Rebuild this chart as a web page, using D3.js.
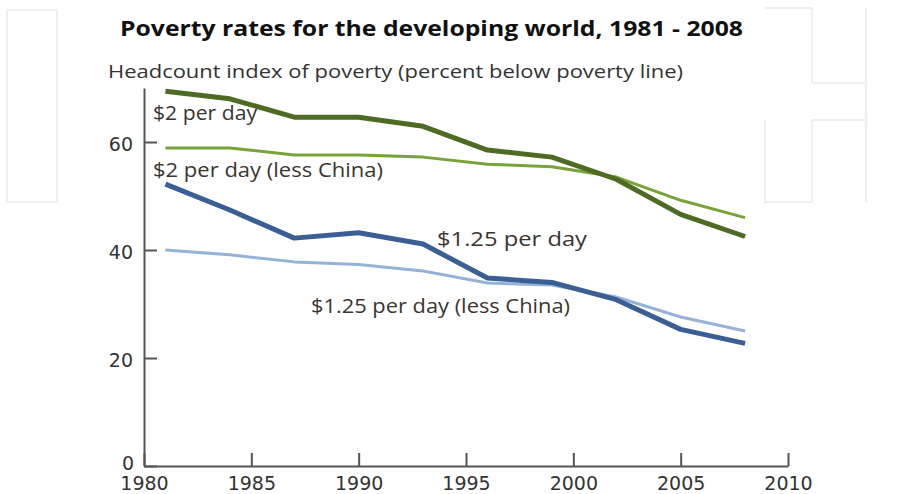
<!DOCTYPE html>
<html>
<head>
<meta charset="utf-8">
<script src="https://cdn.jsdelivr.net/npm/d3@7"></script>
<style>
  body { margin: 0; background: #fff; }
  text { font-family: "Open Sans", "DejaVu Sans", sans-serif; fill: #333; }
</style>
</head>
<body>
<div id="chart"></div>
<script>
// data
var years = [1981, 1984, 1987, 1990, 1993, 1996, 1999, 2002, 2005, 2008];
var twoDollar = [69.4, 68.0, 64.6, 64.6, 62.9, 58.5, 57.2, 53.1, 46.6, 42.5];
var twoDollarLessChina = [58.9, 58.9, 57.6, 57.6, 57.2, 55.9, 55.4, 53.5, 49.2, 46.0];
var oneTwentyFive = [52.2, 47.4, 42.2, 43.2, 41.1, 34.8, 34.0, 30.8, 25.3, 22.7];
var oneTwentyFiveLessChina = [40.0, 39.1, 37.8, 37.3, 36.1, 33.9, 33.5, 31.3, 27.6, 25.0];
var xTicks = [1980, 1985, 1990, 1995, 2000, 2005, 2010];
var yTicks = [0, 20, 40, 60];

var series = [
  {name: "$2 per day (less China)", values: twoDollarLessChina, color: "#77a33a", width: 3, lx: 153, ly: 177, lw: 230},
  {name: "$2 per day", values: twoDollar, color: "#4e6b24", width: 5, lx: 153, ly: 120, lw: 104},
  {name: "$1.25 per day (less China)", values: oneTwentyFiveLessChina, color: "#95b3d7", width: 3, lx: 311, ly: 313, lw: 259},
  {name: "$1.25 per day", values: oneTwentyFive, color: "#3a5f94", width: 5, lx: 437, ly: 246, lw: 150}
];

var W = 909, H = 494;
var svg = d3.select("#chart").append("svg")
    .attr("width", W)
    .attr("height", H);

// faint watermark outlines behind the chart
var wm = svg.append("g").attr("fill", "none").attr("stroke", "#efefef").attr("stroke-width", 2);
wm.append("rect").attr("x", 7).attr("y", 10).attr("width", 50).attr("height", 192);
wm.append("path").attr("d", "M765,8 H812 V83 M812,120 V202 H765 V120 M866,8 V202 M865,83 H812 M865,120 H812");

var x = d3.scaleLinear().domain([1980, 2010]).range([144, 788]);
var y = d3.scaleLinear().domain([0, 70]).range([466, 88]);

// title + subtitle
svg.append("text")
  .attr("x", 120).attr("y", 36)
  .attr("font-size", 22).attr("font-weight", "bold")
  .attr("textLength", 623).attr("lengthAdjust", "spacingAndGlyphs")
  .style("fill", "#111")
  .text("Poverty rates for the developing world, 1981 - 2008");

svg.append("text")
  .attr("x", 108).attr("y", 78)
  .attr("font-size", 18)
  .attr("textLength", 575).attr("lengthAdjust", "spacingAndGlyphs")
  .text("Headcount index of poverty (percent below poverty line)");

// axes
var axisColor = "#555";
var xAxis = svg.append("g")
  .attr("transform", "translate(0," + y(0) + ")")
  .call(d3.axisBottom(x).tickValues(xTicks).tickFormat(d3.format("d")).tickSize(-13).tickSizeOuter(0));
xAxis.select(".domain").attr("stroke", axisColor).attr("stroke-width", 2);
xAxis.selectAll(".tick line").attr("stroke", axisColor).attr("stroke-width", 2);
xAxis.selectAll(".tick text")
  .attr("y", 11).attr("dy", "0.71em")
  .attr("font-size", 19)
  .style("font-family", "'DejaVu Sans', sans-serif")
  .style("fill", "#333");

var yAxis = svg.append("g")
  .attr("transform", "translate(" + x(1980) + ",0)")
  .call(d3.axisLeft(y).tickValues(yTicks).tickSize(-13).tickSizeOuter(0));
yAxis.select(".domain").attr("stroke", axisColor).attr("stroke-width", 2);
yAxis.selectAll(".tick line").attr("stroke", axisColor).attr("stroke-width", 2);
yAxis.selectAll(".tick text")
  .attr("x", -11)
  .attr("dy", "0.45em")
  .attr("font-size", 19)
  .style("font-family", "'DejaVu Sans', sans-serif")
  .style("fill", "#333");
// 0 label sits a bit lower in the original
yAxis.selectAll(".tick").filter(function (d) { return d === 0; })
  .select("text").attr("x", -10).attr("dy", "0.2em");

// lines
var line = d3.line()
  .x(function (d, i) { return x(years[i]); })
  .y(function (d) { return y(d); });

svg.selectAll(".series")
  .data(series)
  .enter().append("path")
    .attr("class", "series")
    .attr("fill", "none")
    .attr("stroke", function (d) { return d.color; })
    .attr("stroke-width", function (d) { return d.width; })
    .attr("stroke-linejoin", "round")
    .attr("d", function (d) { return line(d.values); });

// series labels
svg.selectAll(".lbl")
  .data(series)
  .enter().append("text")
    .attr("class", "lbl")
    .attr("x", function (d) { return d.lx; })
    .attr("y", function (d) { return d.ly; })
    .attr("font-size", 20)
    .attr("textLength", function (d) { return d.lw; })
    .attr("lengthAdjust", "spacingAndGlyphs")
    .style("fill", "#3a3530")
    .text(function (d) { return d.name; });
</script>
</body>
</html>
